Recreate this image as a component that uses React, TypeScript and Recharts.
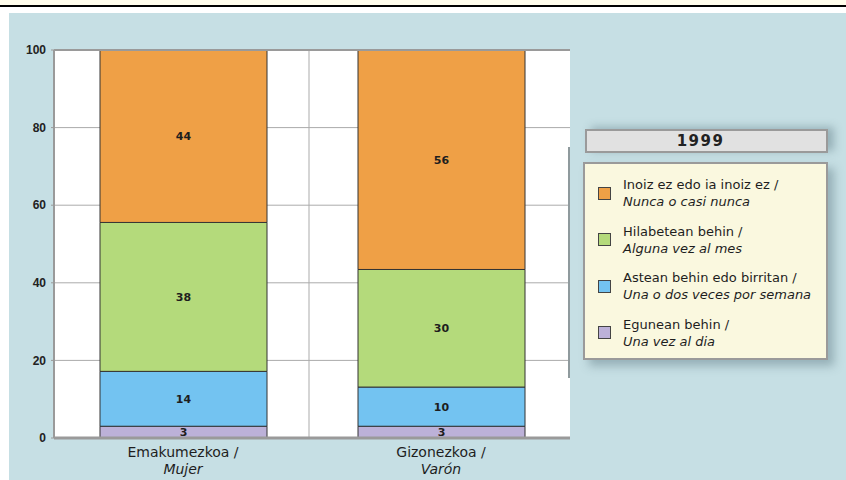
import React from "react";
import {
  BarChart,
  Bar,
  XAxis,
  YAxis,
  CartesianGrid,
  LabelList,
  Legend,
  ReferenceLine,
} from "recharts";

// ---- data ----
const categoriesEu = ["Emakumezkoa /", "Gizonezkoa /"];
const categoriesEs = ["Mujer", "Varón"];

const seriesKeys = ["daily", "weekly", "monthly", "never"];
const seriesEu = [
  "Egunean behin /",
  "Astean behin edo birritan /",
  "Hilabetean behin /",
  "Inoiz ez edo ia inoiz ez /",
];
const seriesEs = [
  "Una vez al dia",
  "Una o dos veces por semana",
  "Alguna vez al mes",
  "Nunca o casi nunca",
];
const seriesColors = ["#bcb1d8", "#73c3f1", "#b4da7b", "#efa046"];

const dailyValues = [3, 3];
const weeklyValues = [14, 10];
const monthlyValues = [38, 30];
const neverValues = [44, 56];

const yTicks = [0, 20, 40, 60, 80, 100];
const legendTitle = "1999";

const seriesValues = [dailyValues, weeklyValues, monthlyValues, neverValues];

const data = categoriesEu.map((c, i) => {
  const row: Record<string, any> = { cat: c };
  seriesKeys.forEach((k, s) => {
    row[k] = seriesValues[s][i];
  });
  return row;
});

const FONT = "'DejaVu Sans', Verdana, sans-serif";
const TICK_FONT = "'Liberation Sans', Arial, sans-serif";

const XTick = (props: any) => {
  const { x, y, payload } = props;
  const idx = categoriesEu.indexOf(payload.value);
  return (
    <g>
      <text
        x={x}
        y={y + 19}
        textAnchor="middle"
        fontFamily={FONT}
        fontSize={14}
        fill="#1e1e1e"
      >
        {payload.value}
      </text>
      <text
        x={x}
        y={y + 36}
        textAnchor="middle"
        fontFamily={FONT}
        fontSize={14}
        fontStyle="italic"
        fill="#1e1e1e"
      >
        {categoriesEs[idx]}
      </text>
    </g>
  );
};

const renderLegend = (props: any) => {
  const payload = (props.payload || [])
    .slice()
    .sort(
      (a: any, b: any) =>
        seriesKeys.indexOf(b.dataKey) - seriesKeys.indexOf(a.dataKey)
    );
  return (
    <div style={{ position: "relative", width: 245, fontFamily: FONT }}>
      <div
        style={{
          position: "absolute",
          left: -15,
          top: 18,
          width: 2,
          height: 231,
          background: "#8f9a9d",
        }}
      />
      <div
        style={{
          marginLeft: 2,
          width: 243,
          height: 24,
          boxSizing: "border-box",
          border: "2px solid #9a9a9a",
          background: "#e1e1e1",
          boxShadow: "6px -2px 8px rgba(60,90,100,0.35)",
          textAlign: "center",
          fontWeight: "bold",
          fontSize: 15,
          letterSpacing: 1.5,
          lineHeight: "20px",
          color: "#222",
          paddingRight: 12,
        }}
      >
        {legendTitle}
      </div>
      <div
        style={{
          marginTop: 9,
          width: 245,
          height: 198,
          boxSizing: "border-box",
          border: "2px solid #9a9a9a",
          background: "#faf8df",
          boxShadow: "6px 6px 9px rgba(60,90,100,0.35)",
          paddingTop: 12,
        }}
      >
        {payload.map((entry: any, i: number) => {
          const s = seriesKeys.indexOf(entry.dataKey);
          return (
            <div
              key={i}
              style={{
                display: "flex",
                alignItems: "center",
                marginBottom: 12.5,
                fontSize: 13,
                lineHeight: "17px",
                color: "#1e1e1e",
              }}
            >
              <div
                style={{
                  marginLeft: 13,
                  width: 13,
                  height: 13,
                  boxSizing: "border-box",
                  border: "1px solid #444",
                  background: entry.color,
                  flex: "0 0 auto",
                }}
              />
              <div style={{ marginLeft: 12 }}>
                <div>{seriesEu[s]}</div>
                <div style={{ fontStyle: "italic" }}>{seriesEs[s]}</div>
              </div>
            </div>
          );
        })}
      </div>
    </div>
  );
};

export default function App() {
  return (
    <div
      style={{
        position: "absolute",
        left: 0,
        top: 0,
        width: 846,
        height: 480,
        background: "#ffffff",
        overflow: "hidden",
      }}
    >
      <div
        style={{
          position: "absolute",
          left: 0,
          top: 0,
          width: 846,
          height: 5,
          background: "#fffdec",
        }}
      />
      <div
        style={{
          position: "absolute",
          left: 0,
          top: 5,
          width: 846,
          height: 2,
          background: "#000",
        }}
      />
      <div
        style={{
          position: "absolute",
          left: 9,
          top: 13,
          width: 837,
          height: 467,
          background: "#c6dfe4",
        }}
      />
      <div style={{ position: "absolute", left: 0, top: 0 }}>
        <BarChart
          width={846}
          height={480}
          data={data}
          stackOffset="expand"
          margin={{ top: 50, right: 276, bottom: 0, left: 0 }}
          barSize={167}
        >
          <CartesianGrid
            fill="#ffffff"
            stroke="#ababab"
            strokeWidth={1}
            verticalCoordinatesGenerator={(p: any) => [
              p.offset.left + p.offset.width / 2 - 3,
            ]}
          />
          <XAxis
            dataKey="cat"
            height={42}
            tickSize={0}
            tickMargin={0}
            tickLine={false}
            axisLine={{ stroke: "#9a9a9a", strokeWidth: 3 }}
            tick={<XTick />}
            interval={0}
          />
          <YAxis
            width={54}
            domain={[0, 1]}
            ticks={yTicks.map((t) => t / 100)}
            tickFormatter={(v: number) => String(Math.round(v * 100))}
            tickSize={3}
            tickMargin={5}
            tickLine={{ stroke: "#9a9a9a" }}
            axisLine={{ stroke: "#9a9a9a", strokeWidth: 2 }}
            tick={{
              fill: "#222",
              fontSize: 12,
              fontWeight: "bold",
              fontFamily: TICK_FONT,
            }}
          />
          <YAxis
            yAxisId="r"
            orientation="right"
            width={0}
            domain={[0, 1]}
            tick={false}
            tickLine={false}
            axisLine={{ stroke: "#9a9a9a", strokeWidth: 3 }}
          />
          <ReferenceLine y={1} stroke="#9a9a9a" strokeWidth={2} />
          {seriesKeys.map((k, s) => (
            <Bar
              key={k}
              dataKey={k}
              name={seriesEu[s]}
              stackId="a"
              fill={seriesColors[s]}
              stroke="#333"
              strokeWidth={1}
              isAnimationActive={false}
            >
              <LabelList
                dataKey={k}
                position="center"
                fill="#1e1e1e"
                fontSize={11}
                fontWeight="bold"
                fontFamily={FONT}
              />
            </Bar>
          ))}
          <Legend
            layout="horizontal"
            verticalAlign="middle"
            align="center"
            content={renderLegend}
            wrapperStyle={{
              position: "absolute",
              left: 583,
              top: 129,
              width: 245,
            }}
          />
        </BarChart>
      </div>
    </div>
  );
}
